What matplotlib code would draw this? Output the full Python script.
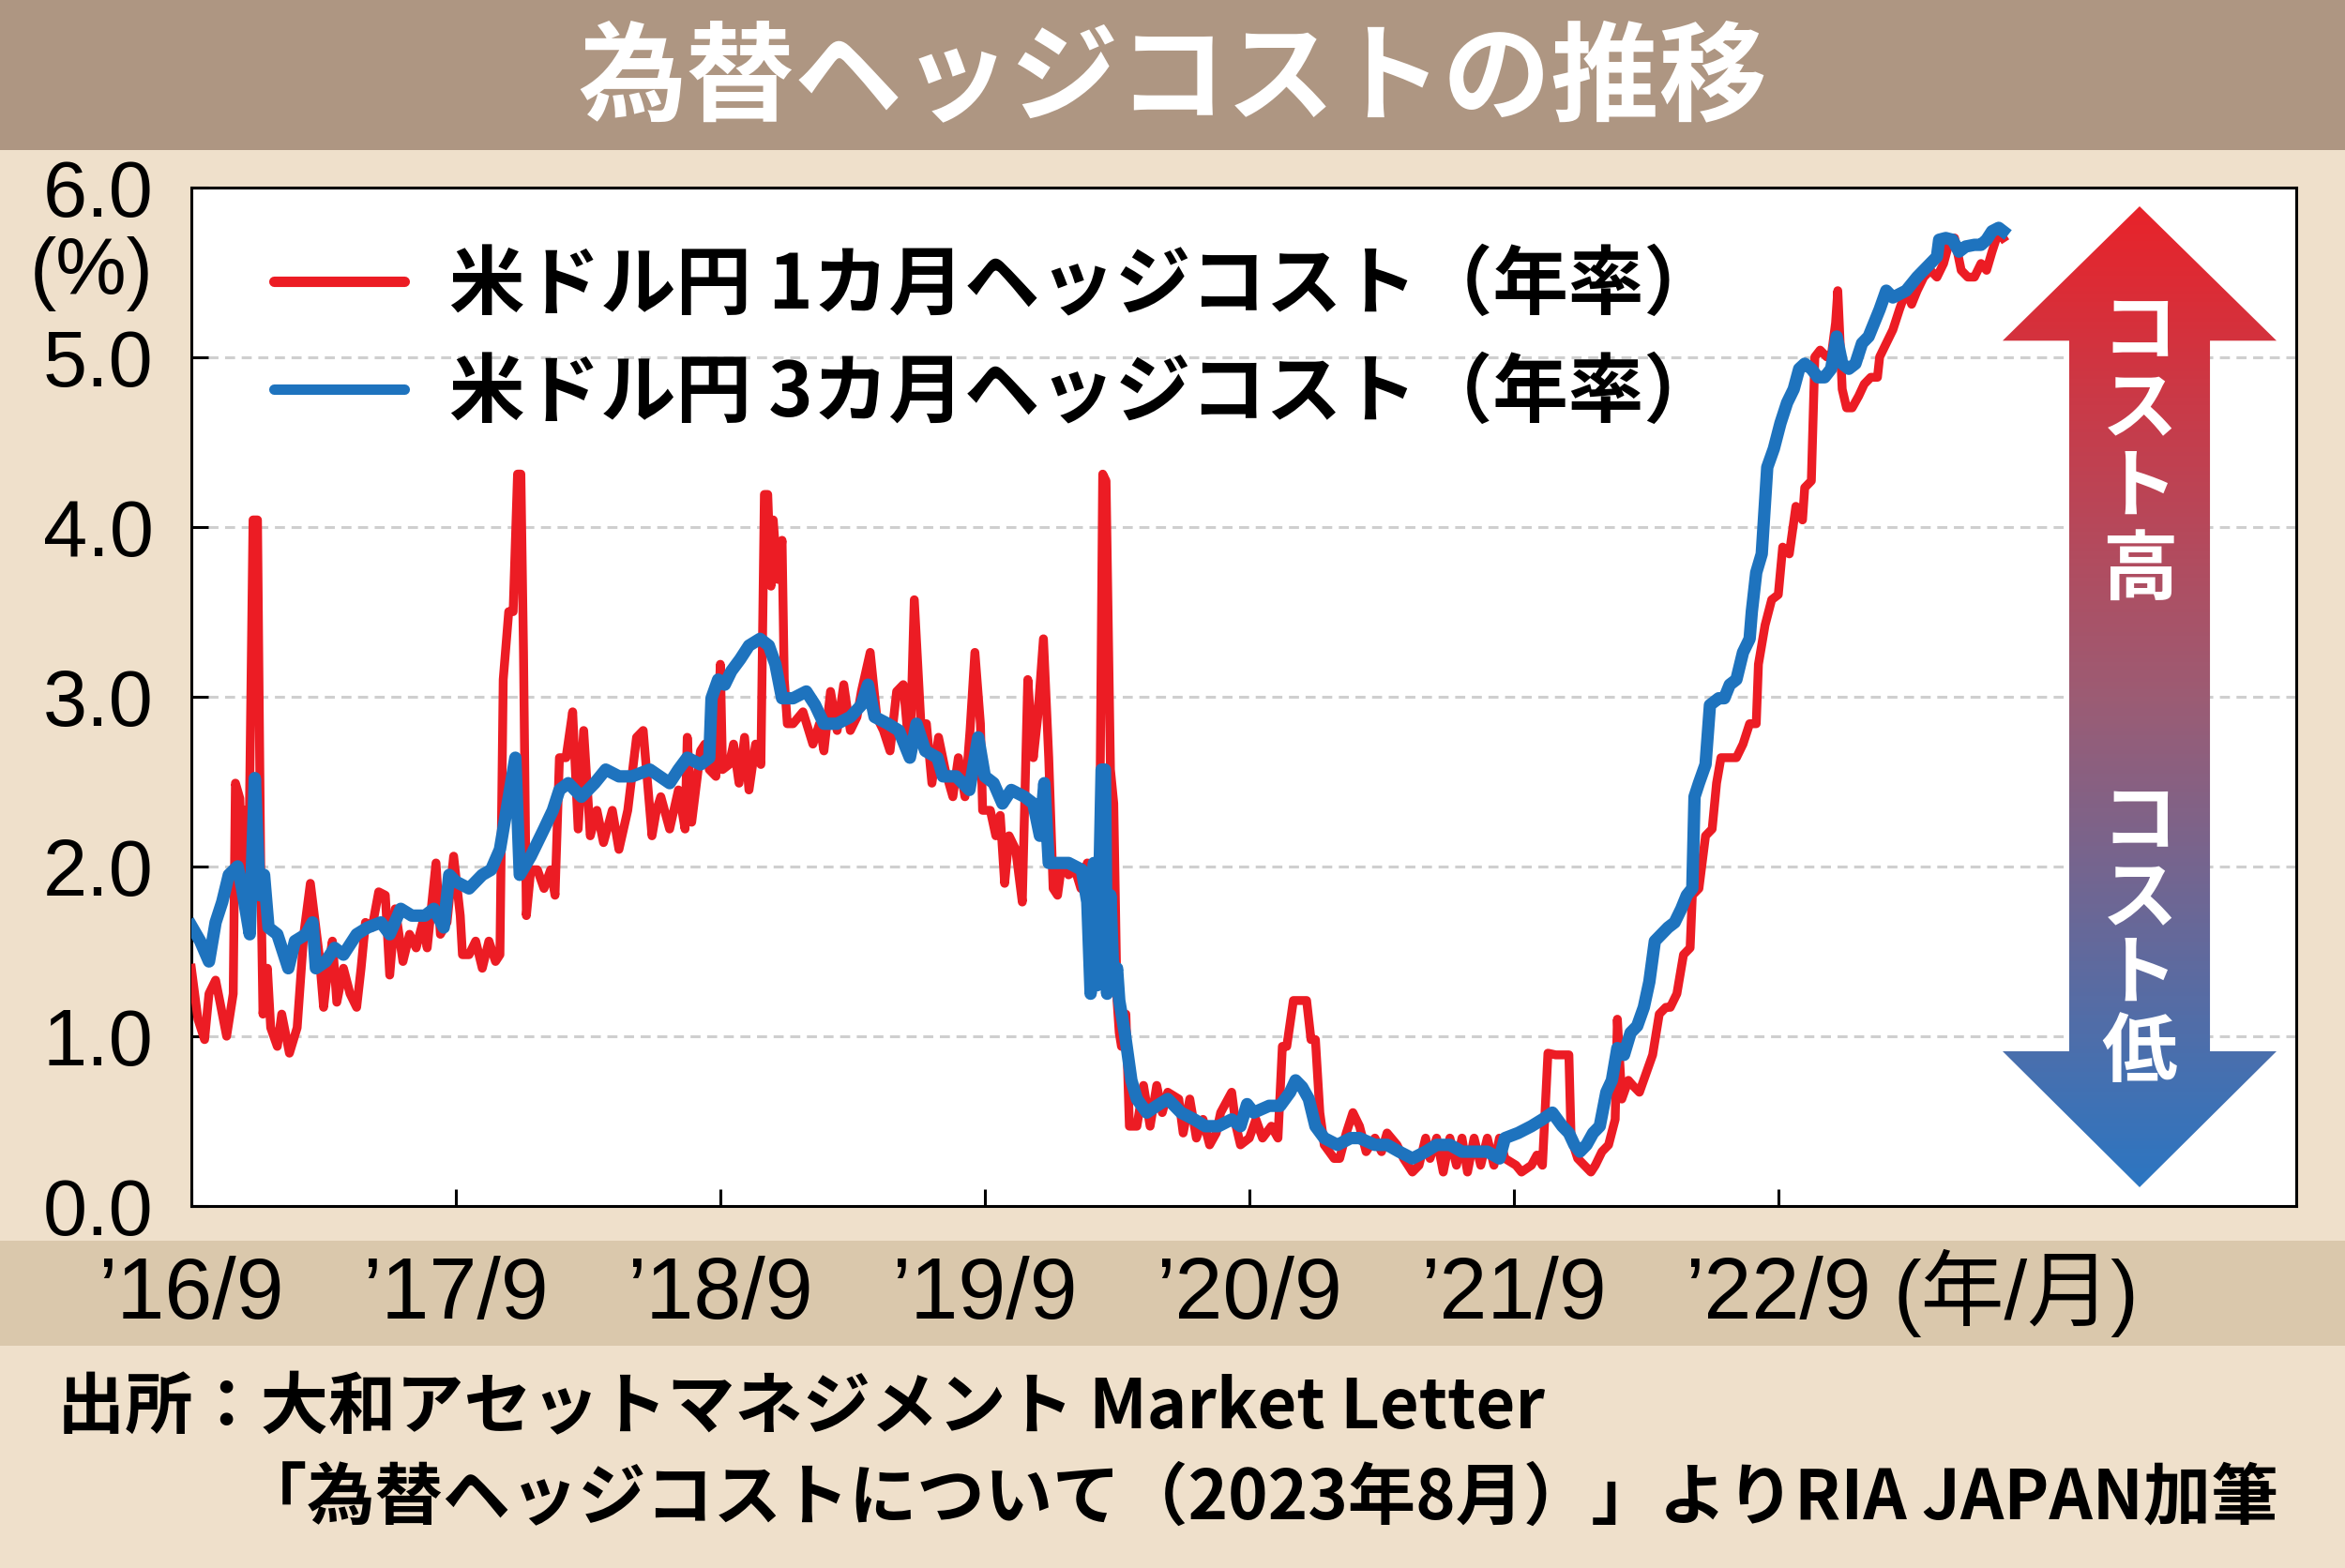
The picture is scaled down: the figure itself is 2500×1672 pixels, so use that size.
import matplotlib
matplotlib.use('Agg')
import matplotlib.pyplot as plt
import numpy as np
from matplotlib.colors import LinearSegmentedColormap
from matplotlib.patches import Polygon, Rectangle
from matplotlib.lines import Line2D

plt.rcParams['font.family'] = ['Noto Sans CJK JP', 'DejaVu Sans']

# x = months since 2016/9
red_month = [0.0, 0.3, 0.6, 0.8, 1.1, 1.3, 1.6, 1.9, 2.0, 2.2,
             2.3, 2.45, 2.6, 2.8, 3.0, 3.15, 3.25, 3.45, 3.6, 3.9,
             4.1, 4.45, 4.8, 5.1, 5.4, 5.8, 6.0, 6.2, 6.4, 6.6,
             6.9, 7.2, 7.5, 7.7, 7.9, 8.2, 8.5, 8.8, 9.0, 9.25,
             9.6, 9.9, 10.2, 10.5, 10.7, 11.1, 11.3, 11.6, 11.9, 12.2,
             12.3, 12.6, 12.9, 13.2, 13.5, 13.8, 14.0, 14.15, 14.4, 14.6,
             14.8, 14.95, 15.07, 15.2, 15.4, 15.7, 16.0, 16.3, 16.5, 16.7,
             17.0, 17.3, 17.55, 17.8, 18.1, 18.4, 18.7, 19.1, 19.4, 19.8,
             20.2, 20.5, 20.9, 21.1, 21.3, 21.7, 22.1, 22.4, 22.5, 22.7,
             23.1, 23.3, 23.5, 23.8, 24.0, 24.1, 24.4, 24.6, 24.85, 25.1,
             25.3, 25.6, 25.84, 26.0, 26.15, 26.3, 26.4, 26.6, 26.8, 26.9,
             27.04, 27.3, 27.75, 28.2, 28.5, 28.7, 29.0, 29.3, 29.6, 29.9,
             30.2, 30.4, 30.8, 31.1, 31.4, 31.7, 32.0, 32.3, 32.6, 32.8,
             33.1, 33.35, 33.6, 33.9, 34.2, 34.55, 34.8, 35.1, 35.33, 35.55,
             35.8, 35.9, 36.25, 36.5, 36.7, 36.9, 37.1, 37.4, 37.7, 37.95,
             38.2, 38.4, 38.66, 38.9, 39.1, 39.3, 39.5, 39.8, 40.1, 40.36,
             40.65, 40.9, 41.2, 41.35, 41.5, 41.7, 41.85, 42.0, 42.1, 42.2,
             42.4, 42.56, 42.9, 43.2, 43.5, 43.8, 44.05, 44.3, 44.8, 45.0,
             45.3, 45.6, 45.9, 46.2, 46.5, 46.7, 47.2, 47.4, 47.6, 48.0,
             48.3, 48.6, 49.0, 49.3, 49.5, 49.7, 50.0, 50.3, 50.6, 50.8,
             51.0, 51.2, 51.4, 51.85, 52.1, 52.4, 52.7, 53.0, 53.3, 53.7,
             54.0, 54.25, 54.7, 55.0, 55.4, 55.7, 56.0, 56.2, 56.5, 56.8,
             57.1, 57.4, 57.65, 57.9, 58.2, 58.5, 58.8, 59.1, 59.35, 59.6,
             60.1, 60.35, 60.8, 61.05, 61.3, 61.55, 61.9, 62.2, 62.5, 62.6,
             62.9, 63.2, 63.5, 63.7, 64.0, 64.3, 64.6, 64.7, 64.9, 65.2,
             65.4, 65.7, 66.0, 66.3, 66.6, 66.9, 67.1, 67.4, 67.7, 68.0,
             68.1, 68.4, 68.7, 69.0, 69.2, 69.4, 69.7, 70.1, 70.4, 70.7,
             71.0, 71.1, 71.4, 71.7, 72.0, 72.2, 72.5, 72.8, 73.1, 73.2,
             73.5, 73.66, 73.9, 74.2, 74.4, 74.6, 74.7, 74.9, 75.1, 75.35,
             75.65, 75.9, 76.2, 76.5, 76.6, 76.9, 77.2, 77.5, 77.8, 78.05,
             78.3, 78.6, 78.9, 79.2, 79.5, 79.75, 80.0, 80.3, 80.6, 80.9,
             81.2, 81.45, 81.7, 82.0, 82.2]
red_rate = [1.40, 1.10, 0.98, 1.25, 1.33, 1.20, 1.00, 1.25, 2.49, 2.40,
            2.02, 2.33, 1.95, 4.04, 4.04, 1.95, 1.13, 1.40, 1.05, 0.94,
            1.13, 0.90, 1.05, 1.60, 1.90, 1.48, 1.17, 1.40, 1.56, 1.20,
            1.40, 1.25, 1.17, 1.40, 1.67, 1.64, 1.85, 1.83, 1.36, 1.75,
            1.44, 1.60, 1.52, 1.67, 1.52, 2.02, 1.60, 1.67, 2.06, 1.71,
            1.48, 1.48, 1.56, 1.40, 1.56, 1.44, 1.48, 3.10, 3.50, 3.50,
            4.31, 4.31, 3.26, 1.71, 1.98, 1.98, 1.87, 1.98, 1.83, 2.64,
            2.64, 2.91, 2.22, 2.80, 2.18, 2.33, 2.14, 2.33, 2.10, 2.33,
            2.76, 2.80, 2.18, 2.33, 2.41, 2.22, 2.45, 2.22, 2.76, 2.26,
            2.68, 2.72, 2.57, 2.53, 3.19, 2.57, 2.60, 2.72, 2.49, 2.76,
            2.45, 2.72, 2.60, 4.19, 4.19, 3.65, 4.04, 3.69, 3.92, 3.10,
            2.84, 2.84, 2.91, 2.72, 2.84, 2.68, 3.03, 2.80, 3.07, 2.80,
            2.88, 3.03, 3.26, 2.88, 2.80, 2.68, 3.03, 3.07, 2.64, 3.57,
            2.84, 2.84, 2.49, 2.76, 2.57, 2.41, 2.64, 2.41, 2.80, 3.26,
            2.84, 2.33, 2.33, 2.18, 2.30, 1.90, 2.18, 2.10, 1.79, 3.10,
            2.64, 2.88, 3.34, 2.64, 1.87, 1.83, 2.02, 1.95, 1.98, 1.87,
            2.02, 1.48, 2.00, 4.31, 4.27, 2.57, 2.37, 1.21, 1.02, 0.94,
            1.13, 0.47, 0.47, 0.71, 0.47, 0.71, 0.55, 0.67, 0.63, 0.43,
            0.63, 0.40, 0.51, 0.36, 0.43, 0.55, 0.67, 0.47, 0.36, 0.40,
            0.51, 0.40, 0.47, 0.40, 0.94, 0.94, 1.21, 1.21, 1.21, 0.98,
            0.98, 0.55, 0.36, 0.28, 0.28, 0.43, 0.55, 0.47, 0.32, 0.40,
            0.32, 0.43, 0.36, 0.28, 0.20, 0.24, 0.40, 0.28, 0.40, 0.20,
            0.40, 0.24, 0.40, 0.20, 0.40, 0.24, 0.40, 0.24, 0.40, 0.28,
            0.24, 0.20, 0.24, 0.30, 0.24, 0.90, 0.89, 0.89, 0.89, 0.40,
            0.28, 0.24, 0.20, 0.24, 0.32, 0.36, 0.51, 1.10, 0.63, 0.74,
            0.71, 0.67, 0.78, 0.89, 1.13, 1.17, 1.17, 1.25, 1.48, 1.52,
            1.83, 1.87, 2.18, 2.22, 2.49, 2.64, 2.64, 2.64, 2.72, 2.84,
            2.84, 3.19, 3.42, 3.57, 3.60, 3.88, 3.84, 4.12, 4.04, 4.23,
            4.27, 5.00, 5.04, 5.00, 5.00, 5.20, 5.39, 4.81, 4.70, 4.70,
            4.77, 4.84, 4.88, 4.88, 5.00, 5.08, 5.16, 5.28, 5.39, 5.31,
            5.39, 5.47, 5.51, 5.47, 5.55, 5.67, 5.70, 5.51, 5.47, 5.47,
            5.55, 5.51, 5.62, 5.74, 5.70]

blue_month = [0.0, 0.4, 0.8, 1.1, 1.4, 1.7, 2.1, 2.3, 2.65, 2.88,
              3.1, 3.3, 3.5, 3.9, 4.2, 4.4, 4.7, 5.2, 5.5, 5.65,
              6.1, 6.5, 6.9, 7.5, 8.0, 8.6, 9.0, 9.5, 10.0, 10.6,
              11.0, 11.45, 11.7, 12.0, 12.6, 13.2, 13.6, 14.0, 14.3, 14.7,
              14.9, 15.4, 16.0, 16.4, 16.7, 17.1, 17.7, 18.3, 18.8, 19.4,
              20.0, 20.8, 21.7, 22.1, 22.5, 23.1, 23.5, 23.6, 23.9, 24.2,
              24.5, 24.9, 25.3, 25.8, 26.2, 26.5, 26.8, 27.0, 27.3, 27.9,
              28.3, 28.7, 29.3, 29.9, 30.4, 30.7, 31.0, 31.6, 32.1, 32.6,
              32.9, 33.3, 33.85, 34.1, 34.7, 35.3, 35.7, 36.0, 36.4, 36.8,
              37.2, 37.8, 38.2, 38.5, 38.7, 38.9, 39.2, 39.8, 40.4, 40.65,
              40.8, 40.95, 41.1, 41.3, 41.45, 41.55, 41.7, 41.85, 42.0, 42.1,
              42.35, 42.65, 42.9, 43.35, 43.8, 44.3, 44.9, 45.5, 46.0, 46.6,
              47.2, 47.6, 47.9, 48.2, 48.9, 49.4, 49.85, 50.1, 50.4, 50.7,
              51.0, 51.4, 52.0, 52.6, 53.0, 53.7, 54.25, 54.8, 55.4, 56.0,
              56.5, 57.1, 57.65, 58.2, 58.8, 59.35, 59.6, 60.2, 60.8, 61.3,
              61.75, 62.2, 62.5, 62.75, 63.0, 63.3, 63.6, 63.9, 64.2, 64.45,
              64.7, 65.0, 65.3, 65.6, 65.9, 66.15, 66.4, 66.7, 67.0, 67.3,
              67.6, 67.85, 68.1, 68.2, 68.4, 68.7, 68.9, 69.3, 69.55, 69.8,
              70.1, 70.4, 70.7, 70.8, 71.0, 71.25, 71.5, 71.8, 72.1, 72.4,
              72.7, 72.95, 73.2, 73.5, 73.8, 74.1, 74.4, 74.65, 74.9, 75.2,
              75.5, 75.8, 76.1, 76.35, 76.6, 76.9, 77.2, 77.5, 77.8, 78.05,
              78.3, 78.6, 78.9, 79.2, 79.3, 79.6, 79.9, 80.2, 80.5, 80.9,
              81.2, 81.45, 81.7, 82.0, 82.2]
blue_rate = [1.65, 1.56, 1.44, 1.67, 1.79, 1.95, 2.00, 1.87, 1.60, 2.52,
             1.83, 1.95, 1.64, 1.60, 1.48, 1.40, 1.56, 1.60, 1.67, 1.40,
             1.44, 1.52, 1.48, 1.60, 1.64, 1.67, 1.60, 1.75, 1.71, 1.71,
             1.75, 1.64, 1.95, 1.91, 1.87, 1.95, 1.98, 2.10, 2.33, 2.64,
             1.95, 2.06, 2.22, 2.33, 2.45, 2.49, 2.41, 2.49, 2.57, 2.53,
             2.53, 2.57, 2.49, 2.57, 2.64, 2.60, 2.64, 2.99, 3.10, 3.07,
             3.15, 3.22, 3.30, 3.34, 3.30, 3.19, 2.99, 2.99, 2.99, 3.03,
             2.95, 2.84, 2.84, 2.88, 2.95, 3.07, 2.88, 2.84, 2.80, 2.64,
             2.84, 2.68, 2.64, 2.53, 2.53, 2.45, 2.76, 2.53, 2.49, 2.37,
             2.45, 2.41, 2.37, 2.18, 2.49, 2.02, 2.02, 2.02, 1.98, 1.79,
             1.25, 2.02, 1.30, 2.57, 2.57, 1.25, 1.83, 1.30, 1.40, 1.21,
             1.02, 0.74, 0.63, 0.55, 0.59, 0.63, 0.55, 0.51, 0.47, 0.47,
             0.51, 0.47, 0.60, 0.55, 0.59, 0.59, 0.67, 0.74, 0.70, 0.63,
             0.47, 0.40, 0.36, 0.40, 0.40, 0.36, 0.36, 0.32, 0.28, 0.32,
             0.36, 0.36, 0.32, 0.32, 0.32, 0.28, 0.40, 0.43, 0.47, 0.51,
             0.55, 0.47, 0.43, 0.36, 0.32, 0.36, 0.43, 0.47, 0.67, 0.74,
             0.93, 0.89, 1.02, 1.06, 1.17, 1.32, 1.56, 1.60, 1.64, 1.67,
             1.75, 1.83, 1.87, 2.41, 2.49, 2.60, 2.95, 2.99, 2.99, 3.07,
             3.10, 3.26, 3.34, 3.50, 3.73, 3.84, 4.35, 4.46, 4.61, 4.73,
             4.81, 4.93, 4.96, 4.93, 4.88, 4.88, 4.93, 5.12, 4.96, 4.93,
             4.96, 5.08, 5.12, 5.20, 5.28, 5.39, 5.35, 5.37, 5.39, 5.43,
             5.47, 5.51, 5.55, 5.59, 5.69, 5.70, 5.69, 5.62, 5.65, 5.66,
             5.66, 5.69, 5.74, 5.76, 5.74]

tick_months = [0, 12, 24, 36, 48, 60, 72]
tick_labels = ['’16/9', '’17/9', '’18/9', '’19/9', '’20/9', '’21/9', '’22/9']
y_ticks = [0, 1, 2, 3, 4, 5, 6]

title = '為替ヘッジコストの推移'
series_names = ['米ドル円 1カ月ヘッジコスト（年率）', '米ドル円 3カ月ヘッジコスト（年率）']
source_lines = ['出所：大和アセットマネジメント Market Letter',
                '「為替ヘッジコストについて（2023年8月）」よりRIA JAPAN加筆']

RED = '#EC1C24'
BLUE = '#1E73BE'
BG = '#EFE0CB'
W, H = 2500, 1672
num_font = ['Liberation Sans', 'Noto Sans CJK JP']

fig = plt.figure(figsize=(25, 16.72), dpi=100, facecolor=BG)

# title band and tick label band
fig.patches.append(Rectangle((0, 1 - 160 / H), 1, 160 / H, transform=fig.transFigure,
                             facecolor='#AE9682', edgecolor='none', zorder=-1))
fig.patches.append(Rectangle((0, 1 - 1435 / H), 1, 112 / H, transform=fig.transFigure,
                             facecolor='#DAC8AC', edgecolor='none', zorder=-1))
fig.text(0.5, 1 - 86 / H, title, ha='center', va='center', color='white',
         fontsize=83, fontweight='bold')

ax = fig.add_axes([204 / W, 1 - 1286 / H, 2244 / W, 1086.5 / H])
ax.set_facecolor('white')
ax.plot(red_month, red_rate, color=RED, lw=6.8, zorder=3)
ax.plot(blue_month, blue_rate, color=BLUE, lw=9.5, zorder=4)

ax.set_xlim(0, 95.5)
ax.set_ylim(0, 6)
ax.set_yticks(y_ticks)
ax.set_yticklabels([f'{v:.1f}' for v in y_ticks], fontsize=61, family=num_font)
ax.set_xticks(tick_months)
ax.set_xticklabels(tick_labels, fontsize=66, family=num_font)
ax.tick_params(axis='both', direction='in', length=13, width=2.2, color='black')
ax.tick_params(axis='y', pad=29)
ax.tick_params(axis='x', pad=38)
ax.set_axisbelow(True)
ax.yaxis.grid(True, color='#CFCFCF', lw=2.2, linestyle=(0, (3.5, 2.3)))
for s in ax.spines.values():
    s.set_linewidth(2.2)
    s.set_color('black')

ax.text(82.8, -0.0856, '(年/月)', transform=ax.get_xaxis_transform(), ha='center',
        va='center', fontsize=64, family=num_font)
fig.text(164 / W, 1 - 292 / H, '(%)', ha='right', va='center', fontsize=61, family=num_font)

handles = [Line2D([], [], color=RED, lw=8, solid_capstyle='round'),
           Line2D([], [], color=BLUE, lw=8, solid_capstyle='round')]
ax.legend(handles, series_names, loc='upper left', bbox_to_anchor=(0.0392, 0.94),
          frameon=False, borderpad=0, borderaxespad=0, handlelength=1.72,
          handletextpad=0.6, labelspacing=0.42,
          prop=dict(family=['Noto Sans CJK JP'], weight='bold', size=58))

# cost arrow with vertical gradient
arrow_ax = fig.add_axes([2135 / W, 1 - 1266 / H, 292 / W, 1046 / H])
arrow_ax.set_xlim(0, 1)
arrow_ax.set_ylim(0, 1)
arrow_ax.axis('off')
cmap = LinearSegmentedColormap.from_list('cost', ['#2C76C2', '#9C5C74', '#E8232A'])
grad = np.linspace(0, 1, 256).reshape(-1, 1)
im = arrow_ax.imshow(grad, cmap=cmap, extent=[0, 1, 0, 1], origin='lower', aspect='auto')
pts = [(0.5, 1), (1, 0.863), (0.757, 0.863), (0.757, 0.1386), (1, 0.1386), (0.5, 0),
       (0, 0.1386), (0.243, 0.1386), (0.243, 0.863), (0, 0.863)]
shape = Polygon(pts, closed=True, facecolor='none', edgecolor='none')
arrow_ax.add_patch(shape)
im.set_clip_path(shape)

for chars, ys in (('コスト高', [355, 438, 521, 609]), ('コスト低', [878, 960, 1040, 1124])):
    for c, y in zip(chars, ys):
        fig.text(2281 / W, 1 - y / H, c, ha='center', va='center', color='white',
                 fontsize=58, fontweight='bold')

fig.text(61 / W, 1 - 1502 / H, source_lines[0], ha='left', va='center',
         fontsize=52, fontweight='bold')
fig.text(255 / W, 1 - 1599 / H, source_lines[1], ha='left', va='center',
         fontsize=52, fontweight='bold')

fig.savefig('out.png', dpi=100, facecolor=BG)
